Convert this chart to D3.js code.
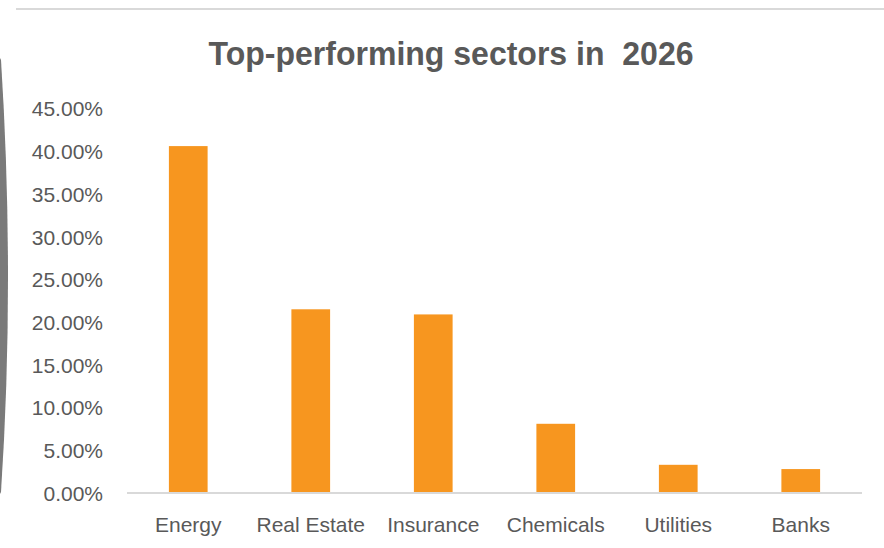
<!DOCTYPE html>
<html>
<head>
<meta charset="utf-8">
<script src="https://cdn.jsdelivr.net/npm/d3@7"></script>
<style>
  html, body { margin: 0; padding: 0; background: #fff; }
  svg { display: block; }
</style>
</head>
<body>
<div id="chart"></div>
<script>
var width = 884;
var height = 548;

// chart data
var sectors = ['Energy', 'Real Estate', 'Insurance', 'Chemicals', 'Utilities', 'Banks'];
var returns = [0.406, 0.215, 0.209, 0.081, 0.033, 0.028];
var yTicks = [0, 0.05, 0.10, 0.15, 0.20, 0.25, 0.30, 0.35, 0.40, 0.45];
var title = 'Top-performing sectors in\u00a0 2026';

var data = sectors.map(function(s, i) { return { sector: s, value: returns[i] }; });

var svg = d3.select('#chart').append('svg')
  .attr('width', width)
  .attr('height', height);

/* frame bits around the chart (top rule and the shadow on the left) */
svg.append('line')
  .attr('x1', 16).attr('x2', width)
  .attr('y1', 9).attr('y2', 9)
  .style('stroke', '#d9d9d9')
  .style('stroke-width', 2);

svg.append('path')
  .attr('d', 'M0,58 L1,60 Q15,280 1,492 L0,494 Z')
  .style('fill', '#7a7a7a');

/* scales */
var x = d3.scaleBand()
  .domain(sectors)
  .range([127, 862])
  .paddingInner(0.684)
  .paddingOuter(0.342);

var y = d3.scaleLinear()
  .domain([0, 0.45])
  .range([493, 108.5]);

// title
svg.append('text')
  .attr('x', 451)
  .attr('y', 65)
  .attr('text-anchor', 'middle')
  .attr('textLength', 485)
  .attr('lengthAdjust', 'spacingAndGlyphs')
  .style('font-family', '"Liberation Sans", Arial, sans-serif')
  .style('font-weight', 'bold')
  .style('font-size', '34px')
  .style('fill', '#595959')
  .text(title);

// y axis (labels only)
var yAxis = d3.axisLeft(y)
  .tickValues(yTicks)
  .tickSize(0)
  .tickPadding(0)
  .tickFormat(d3.format('.2%'));

var gy = svg.append('g')
  .attr('transform', 'translate(103,0)')
  .call(yAxis);
gy.select('.domain').remove();
gy.selectAll('text')
  .attr('dy', '0.35em')
  .style('font-family', '"Liberation Sans", Arial, sans-serif')
  .style('font-size', '21px')
  .style('fill', '#595959');

// bars
svg.append('g').selectAll('rect')
  .data(data)
  .enter().append('rect')
  .attr('x', function(d) { return x(d.sector); })
  .attr('y', function(d) { return y(d.value); })
  .attr('width', x.bandwidth())
  .attr('height', function(d) { return y(0) - y(d.value); })
  .style('fill', '#f7961f');

// x axis baseline + category labels
var xAxis = d3.axisBottom(x).tickSize(0).tickPadding(0);
var gx = svg.append('g')
  .attr('transform', 'translate(0,' + y(0) + ')')
  .call(xAxis);
gx.select('.domain')
  .attr('d', 'M' + x.range()[0] + ',0H' + x.range()[1])
  .style('stroke', '#d9d9d9')
  .style('stroke-width', 2);
gx.selectAll('text')
  .attr('y', 39)
  .attr('dy', 0)
  .style('font-family', '"Liberation Sans", Arial, sans-serif')
  .style('font-size', '21px')
  .style('fill', '#595959');
</script>
</body>
</html>
